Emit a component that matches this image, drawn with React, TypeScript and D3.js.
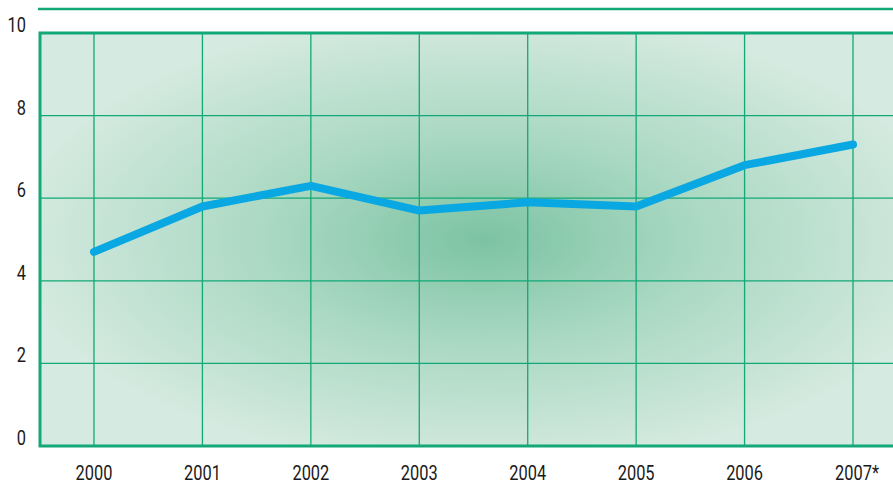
import React, { useEffect, useRef } from 'react';
import * as d3 from 'd3';

const years = ['2000', '2001', '2002', '2003', '2004', '2005', '2006', '2007*'];
const values = [4.7, 5.8, 6.3, 5.7, 5.9, 5.8, 6.8, 7.3];
const yTicks = [0, 2, 4, 6, 8, 10];

const W = 893;
const H = 483;

export default function App() {
  const svgRef = useRef<SVGSVGElement>(null);

  useEffect(() => {
    if (!svgRef.current) return;
    const svg = d3.select(svgRef.current);
    svg.selectAll('*').remove();

    const left = 40, right = 893, top = 33, bottom = 446;
    const green = '#12a877';
    const font = 'Roboto, sans-serif';
    const squeeze = 0.82; // condensed look

    // x: point positions of the years
    const x = d3.scalePoint<string>()
      .domain(years)
      .range([94, 853]);

    const y = d3.scaleLinear()
      .domain([0, 10])
      .range([bottom, top]);

    const defs = svg.append('defs');
    const grad = defs.append('radialGradient')
      .attr('id', 'bg-glow')
      .attr('cx', '0.52').attr('cy', '0.5').attr('r', '0.55');
    grad.append('stop').attr('offset', '0%').attr('stop-color', '#7cc3a2');
    grad.append('stop').attr('offset', '45%').attr('stop-color', '#a9d8c2');
    grad.append('stop').attr('offset', '100%').attr('stop-color', '#d5eae0');

    svg.append('rect')
      .attr('x', left).attr('y', top)
      .attr('width', right - left).attr('height', bottom - top)
      .attr('fill', 'url(#bg-glow)');

    // top rule above plot
    svg.append('line')
      .attr('x1', 38).attr('x2', W)
      .attr('y1', 9).attr('y2', 9)
      .attr('stroke', green).attr('stroke-width', 2.5);

    // horizontal grid
    svg.append('g')
      .selectAll('line')
      .data(yTicks.filter(t => t !== 0 && t !== 10))
      .enter().append('line')
      .attr('x1', left).attr('x2', right)
      .attr('y1', d => y(d)).attr('y2', d => y(d))
      .attr('stroke', green).attr('stroke-width', 1.3);

    // vertical grid
    svg.append('g')
      .selectAll('line')
      .data(years)
      .enter().append('line')
      .attr('x1', d => x(d)!).attr('x2', d => x(d)!)
      .attr('y1', top).attr('y2', bottom)
      .attr('stroke', green).attr('stroke-width', 1.3);

    // frame: top, left, bottom
    svg.append('path')
      .attr('d', `M${right},${top}H${left}V${bottom}H${right}`)
      .attr('fill', 'none')
      .attr('stroke', green)
      .attr('stroke-width', 3);

    // y labels
    svg.append('g')
      .selectAll('text')
      .data(yTicks)
      .enter().append('text')
      .attr('transform', d => `translate(26,${y(d) - 1}) scale(${squeeze},1)`)
      .attr('text-anchor', 'end')
      .attr('font-family', font)
      .attr('font-size', 20)
      .attr('fill', '#1a1a1a')
      .text(d => d);

    // x labels
    svg.append('g')
      .selectAll('text')
      .data(years)
      .enter().append('text')
      .attr('transform', d => `translate(${x(d)! + (d.endsWith('*') ? 4 : 0)},480) scale(${squeeze},1)`)
      .attr('text-anchor', 'middle')
      .attr('font-family', font)
      .attr('font-size', 20)
      .attr('fill', '#1a1a1a')
      .text(d => d);

    const line = d3.line<number>()
      .x((_, i) => x(years[i])!)
      .y(d => y(d));

    svg.append('path')
      .attr('d', line(values))
      .attr('fill', 'none')
      .attr('stroke', '#0aa8e2')
      .attr('stroke-width', 8)
      .attr('stroke-linecap', 'round')
      .attr('stroke-linejoin', 'round');
  }, []);

  return (
    <svg
      ref={svgRef}
      width={W}
      height={H}
      style={{ position: 'absolute', left: 0, top: 0, background: '#fff' }}
    />
  );
}
